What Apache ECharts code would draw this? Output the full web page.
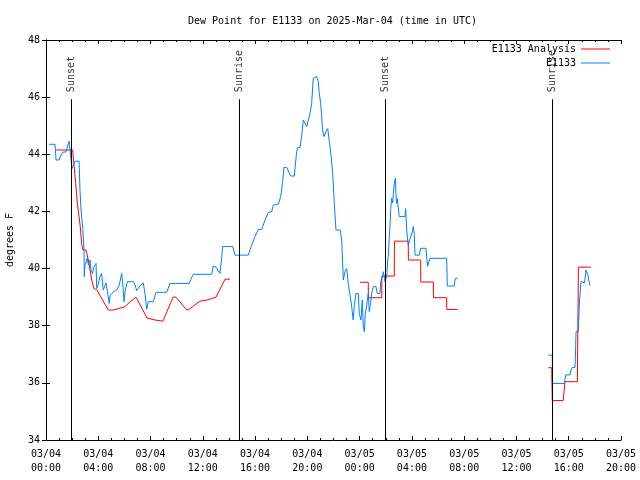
<!DOCTYPE html>
<html><head><meta charset="utf-8">
<script src="https://cdn.jsdelivr.net/npm/echarts@6/dist/echarts.min.js"></script>
<style>html,body{margin:0;padding:0;background:#fff}#c{width:640px;height:480px}</style>
</head><body><div id="c"></div><script>
// hours since 03/04 00:00 UTC; null value = gap
const obsHours = [0.23,0.69,0.73,0.77,0.99,1.15,1.30,1.53,1.61,1.76,1.91,1.99,2.07,2.22,2.53,2.60,2.68,2.75,2.81,2.91,2.93,2.98,3.16,3.24,3.37,3.44,3.57,3.67,3.83,3.88,4.00,4.13,4.26,4.38,4.51,4.59,4.69,4.84,4.90,5.03,5.20,5.41,5.61,5.79,5.87,5.97,6.05,6.22,6.68,6.81,6.94,7.06,7.25,7.45,7.58,7.71,7.83,8.21,8.42,9.24,9.49,10.94,11.27,12.68,12.80,13.01,13.31,13.44,13.52,14.29,14.46,15.48,15.74,15.99,16.25,16.51,16.76,17.01,17.27,17.39,17.78,17.96,18.11,18.21,18.42,18.72,19.00,19.18,19.26,19.44,19.57,19.69,19.82,19.95,20.07,20.20,20.33,20.45,20.53,20.71,20.84,20.91,21.02,21.17,21.27,21.42,21.56,21.68,21.81,21.94,22.06,22.19,22.50,22.63,22.70,22.75,22.88,23.01,23.13,23.26,23.39,23.51,23.59,23.72,23.90,23.97,24.10,24.20,24.28,24.36,24.43,24.54,24.66,24.74,24.84,24.92,25.05,25.17,25.25,25.35,25.56,25.61,25.76,25.81,25.94,26.07,26.15,26.19,26.27,26.32,26.38,26.45,26.53,26.58,26.65,26.73,26.78,26.83,26.88,26.96,27.03,27.47,27.52,27.60,27.72,27.80,27.91,28.03,28.11,28.18,28.24,28.57,28.67,29.08,29.13,29.21,29.33,29.38,30.66,30.71,31.24,31.32,31.50,
  35.0,
  38.44,38.74,38.75,39.66,39.71,39.79,40.10,40.17,40.27,40.48,40.53,40.56,40.73,40.83,40.94,41.09,41.21,41.32,41.48,41.55,41.63];
const obsValues = [44.35,44.35,44.42,43.80,43.80,43.97,44.08,44.08,44.22,44.46,44.46,43.50,43.55,43.76,43.76,42.75,42.05,41.70,41.41,40.65,39.72,40.10,40.37,40.12,40.30,39.95,39.83,40.07,40.18,39.30,39.45,39.72,39.83,39.25,39.40,39.50,39.45,38.78,39.05,39.13,39.19,39.25,39.43,39.83,39.50,38.84,39.20,39.54,39.54,39.43,39.23,39.25,39.43,39.49,39.10,38.58,38.84,38.84,39.17,39.17,39.48,39.48,39.80,39.80,40.09,40.05,39.83,40.36,40.77,40.77,40.47,40.47,40.82,41.12,41.37,41.37,41.70,41.96,41.99,42.22,42.26,42.52,43.04,43.54,43.54,43.24,43.24,44.09,44.24,44.24,44.67,45.20,45.20,44.97,44.97,45.43,45.78,46.66,46.68,46.72,46.54,46.13,45.78,44.85,44.62,44.80,44.90,44.44,43.97,43.33,42.28,41.35,41.35,41.00,40.18,39.60,39.90,40.00,39.48,39.07,38.67,38.20,38.70,39.13,39.13,38.43,38.20,38.90,37.97,37.79,38.40,38.72,39.13,38.49,38.80,39.13,39.37,39.42,39.37,39.13,39.13,39.54,39.72,39.89,39.54,39.72,40.30,40.42,41.12,41.47,42.10,42.46,42.30,42.63,42.98,43.16,42.60,42.28,42.45,42.40,41.82,41.82,42.10,41.35,40.82,40.95,41.12,41.29,41.47,41.20,40.47,40.47,40.71,40.71,40.36,40.09,40.09,40.36,40.36,39.39,39.39,39.66,39.66,
  null,
  36.97,36.97,35.98,35.98,36.12,36.28,36.28,36.45,36.54,36.54,37.21,37.79,37.79,38.90,39.55,39.60,39.50,39.95,39.75,39.55,39.40];

const anaHours = [0.77,2.04,2.14,2.27,2.40,2.53,2.62,2.73,2.81,3.06,3.24,3.37,3.50,3.67,3.88,4.77,5.13,5.97,6.43,6.89,7.73,8.34,8.95,9.72,9.95,10.71,10.87,11.78,12.32,13.01,13.70,14.08,
  19.0,
  24.03,24.66,24.67,25.69,25.70,26.65,26.66,27.72,27.73,28.67,28.68,29.64,29.65,30.66,30.67,31.50,
  35.0,
  38.44,38.70,38.74,39.58,39.60,39.71,40.66,40.70,40.74,41.70];
const anaValues = [44.15,44.15,43.65,43.00,42.28,41.82,41.47,40.88,40.65,40.65,40.30,39.95,39.60,39.30,39.26,38.55,38.55,38.65,38.83,39.00,38.27,38.20,38.16,39.00,39.00,38.58,38.55,38.86,38.90,39.00,39.63,39.63,
  null,
  39.52,39.52,38.98,38.98,39.74,39.74,40.96,40.96,40.30,40.30,39.53,39.53,38.98,38.98,38.57,38.57,
  null,
  36.53,36.53,35.38,35.38,35.33,36.04,36.04,38.00,40.05,40.05];

const sunHours = [1.951, 14.807, 25.979, 38.759];
const sunLabels = ['Sunset', 'Sunrise', 'Sunset', 'Sunrise'];
const sunLineTop = 45.93;

const xTickLabels = ['03/04\n00:00','03/04\n04:00','03/04\n08:00','03/04\n12:00','03/04\n16:00','03/04\n20:00',
  '03/05\n00:00','03/05\n04:00','03/05\n08:00','03/05\n12:00','03/05\n16:00','03/05\n20:00'];
const yTicks = [34, 36, 38, 40, 42, 44, 46, 48];

const FONT = 'DejaVu Sans Mono';
const pair = (hs, vs) => hs.map((h, i) => [h, vs[i] === null ? '-' : vs[i]]);
const sunLineData = [];
sunHours.forEach(h => { sunLineData.push([h, yTicks[0]], [h, sunLineTop], [h, '-']); });

const baseX = {
  type: 'value', min: 0, max: 44, interval: 4,
  axisLine: {show: true, lineStyle: {color: '#000', width: 1}},
  axisTick: {show: true, inside: true, length: 4, lineStyle: {color: '#000'}},
  minorTick: {show: true, splitNumber: 4, length: 2, lineStyle: {color: '#000'}},
  splitLine: {show: false}
};
const baseY = {
  type: 'value', min: 34, max: 48, interval: 2,
  axisLine: {show: true, lineStyle: {color: '#000', width: 1}},
  axisTick: {show: true, inside: true, length: 4, lineStyle: {color: '#000'}},
  splitLine: {show: false}
};
const legendText = {fontFamily: FONT, fontSize: 10, color: '#000'};

const chart = echarts.init(document.getElementById('c'), null, {renderer: 'canvas'});
chart.setOption({
  animation: false,
  backgroundColor: '#fff',
  textStyle: {fontFamily: FONT},
  title: {
    text: 'Dew Point for E1133 on 2025-Mar-04 (time in UTC)',
    left: 183, top: 11,
    textStyle: {fontFamily: FONT, fontSize: 10, fontWeight: 'normal', color: '#000'}
  },
  grid: {left: 46, right: 19, top: 40, bottom: 40, containLabel: false, outerBoundsMode: 'none'},
  legend: [
    {data: [{name: 'E1133 Analysis', icon: 'rect'}], right: 25, top: 39, align: 'right', itemWidth: 29, itemHeight: 1,
     textStyle: legendText},
    {data: [{name: 'E1133', icon: 'rect'}], right: 25, top: 53, align: 'right', itemWidth: 29, itemHeight: 1,
     textStyle: legendText}
  ],
  xAxis: [
    Object.assign({}, baseX, {position: 'bottom',
      axisLabel: {show: true, color: '#000', fontFamily: FONT, fontSize: 10, lineHeight: 14, margin: 7,
        formatter: v => xTickLabels[Math.round(v / 4)]}}),
    Object.assign({}, baseX, {position: 'top', axisLabel: {show: false}})
  ],
  yAxis: [
    Object.assign({}, baseY, {position: 'left', name: 'degrees F', nameLocation: 'middle', nameGap: 31,
      nameTextStyle: {fontFamily: FONT, fontSize: 10, color: '#000'},
      axisLabel: {show: true, color: '#000', fontFamily: FONT, fontSize: 10, margin: 6}}),
    Object.assign({}, baseY, {position: 'right', axisLabel: {show: false}})
  ],
  series: [
    {name: 'E1133 Analysis', type: 'line', symbol: 'none', data: pair(anaHours, anaValues),
     lineStyle: {color: '#ff0000', width: 1}, itemStyle: {color: '#ff0000'}, connectNulls: false},
    {name: 'E1133', type: 'line', symbol: 'none', data: pair(obsHours, obsValues),
     lineStyle: {color: '#0080ff', width: 1}, itemStyle: {color: '#0080ff'}, connectNulls: false},
    {name: 'sun', type: 'line', symbol: 'none', data: sunLineData,
     lineStyle: {color: '#000', width: 1}, connectNulls: false, silent: true},
    {name: 'sunlabel', type: 'scatter', symbolSize: 2, itemStyle: {color: 'rgba(0,0,0,0)'},
     data: sunHours.map(h => [h, sunLineTop]), silent: true,
     label: {show: true, position: 'top', distance: 6, rotate: 90, align: 'left', verticalAlign: 'middle',
       fontFamily: FONT, fontSize: 10, color: '#000', formatter: p => sunLabels[p.dataIndex]}}
  ]
});
</script></body></html>
